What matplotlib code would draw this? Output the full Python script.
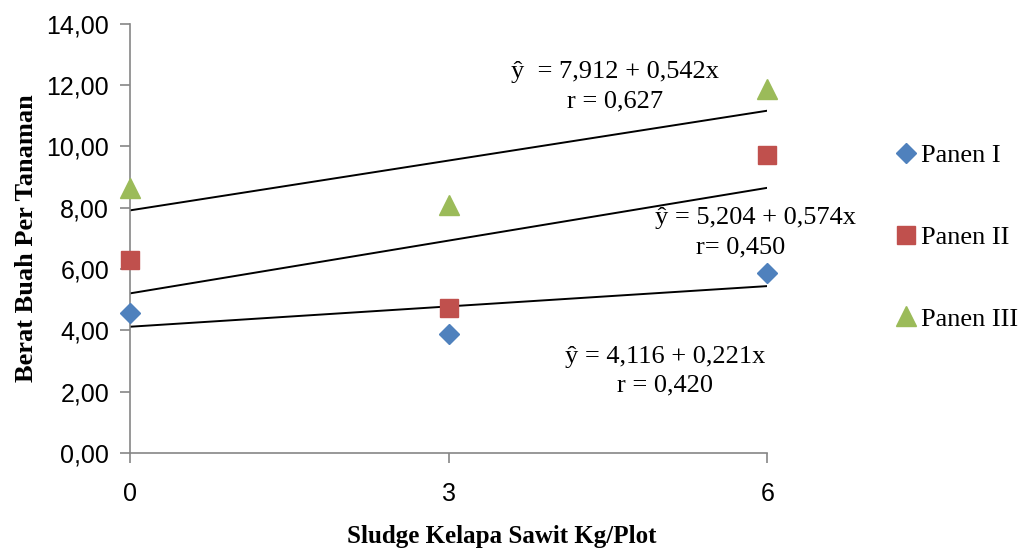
import numpy as np
import matplotlib
matplotlib.use("Agg")
import matplotlib.pyplot as plt
from matplotlib.ticker import FuncFormatter

# data
dosis = [0, 3, 6]
panen_1 = [4.57, 3.88, 5.87]
panen_2 = [6.30, 4.73, 9.73]
panen_3 = [8.65, 8.09, 11.88]

# regression coefficients (intercept, slope) as printed on the chart
intercepts = [4.116, 5.204, 7.912]
slopes = [0.221, 0.574, 0.542]

serif = ["Liberation Serif", "DejaVu Serif"]
sans = ["Liberation Sans Narrow", "Liberation Sans", "DejaVu Sans"]

fig = plt.figure(figsize=(10.23, 5.53), dpi=100)
ax = fig.add_axes([0.127, 0.181, 0.623, 0.776])

ax.plot(dosis, panen_1, "D", color="#4F81BD", markersize=10, label="Panen I", zorder=3, clip_on=False)
ax.plot(dosis, panen_2, "s", color="#C0504D", markersize=13, label="Panen II", zorder=3, clip_on=False)
ax.plot(dosis, panen_3, "^", color="#9BBB59", markersize=14, label="Panen III", zorder=3, clip_on=False)

xs = np.array([0, 6])
for a, b in zip(intercepts, slopes):
    ax.plot(xs, a + b * xs, color="black", linewidth=1.4, zorder=2)

ax.set_xlim(0, 6)
ax.set_ylim(0, 14)
ax.set_xticks([0, 3, 6])
ax.set_yticks(np.arange(0, 15, 2))
ax.yaxis.set_major_formatter(FuncFormatter(lambda v, p: f"{v:.2f}".replace(".", ",")))
for s in ["top", "right"]:
    ax.spines[s].set_visible(False)
for s in ["left", "bottom"]:
    ax.spines[s].set_color("#868686")
    ax.spines[s].set_linewidth(1.2)
ax.tick_params(axis="both", colors="#868686", length=7, width=1.2, labelcolor="black")
ax.tick_params(axis="y", pad=8)
ax.tick_params(axis="x", pad=14)
for lab in ax.get_xticklabels() + ax.get_yticklabels():
    lab.set_family(sans)
    lab.set_fontsize(18)

fig.text(0.49, 0.029, "Sludge Kelapa Sawit Kg/Plot", family=serif, fontsize=18,
         fontweight="bold", ha="center", va="center")
ax.set_ylabel("Berat Buah Per Tanaman", family=serif, fontsize=19, fontweight="bold", labelpad=6)

# equation labels
kw = dict(family=serif, fontsize=19, ha="center", va="center")
ax.text(4.57, 12.43, "ŷ  = 7,912 + 0,542x", **kw)
ax.text(4.57, 11.46, "r = 0,627", **kw)
ax.text(5.89, 7.67, "ŷ = 5,204 + 0,574x", **kw)
ax.text(5.75, 6.69, "r= 0,450", **kw)
ax.text(5.04, 3.13, "ŷ = 4,116 + 0,221x", **kw)
ax.text(5.04, 2.19, "r = 0,420", **kw)

fig.legend(loc="center left", bbox_to_anchor=(0.873, 0.571), frameon=False,
           prop={"family": serif, "size": 19}, labelspacing=2.2,
           handletextpad=0.05, handlelength=1.0, borderpad=0, borderaxespad=0)

plt.savefig("out.png", dpi=100)
